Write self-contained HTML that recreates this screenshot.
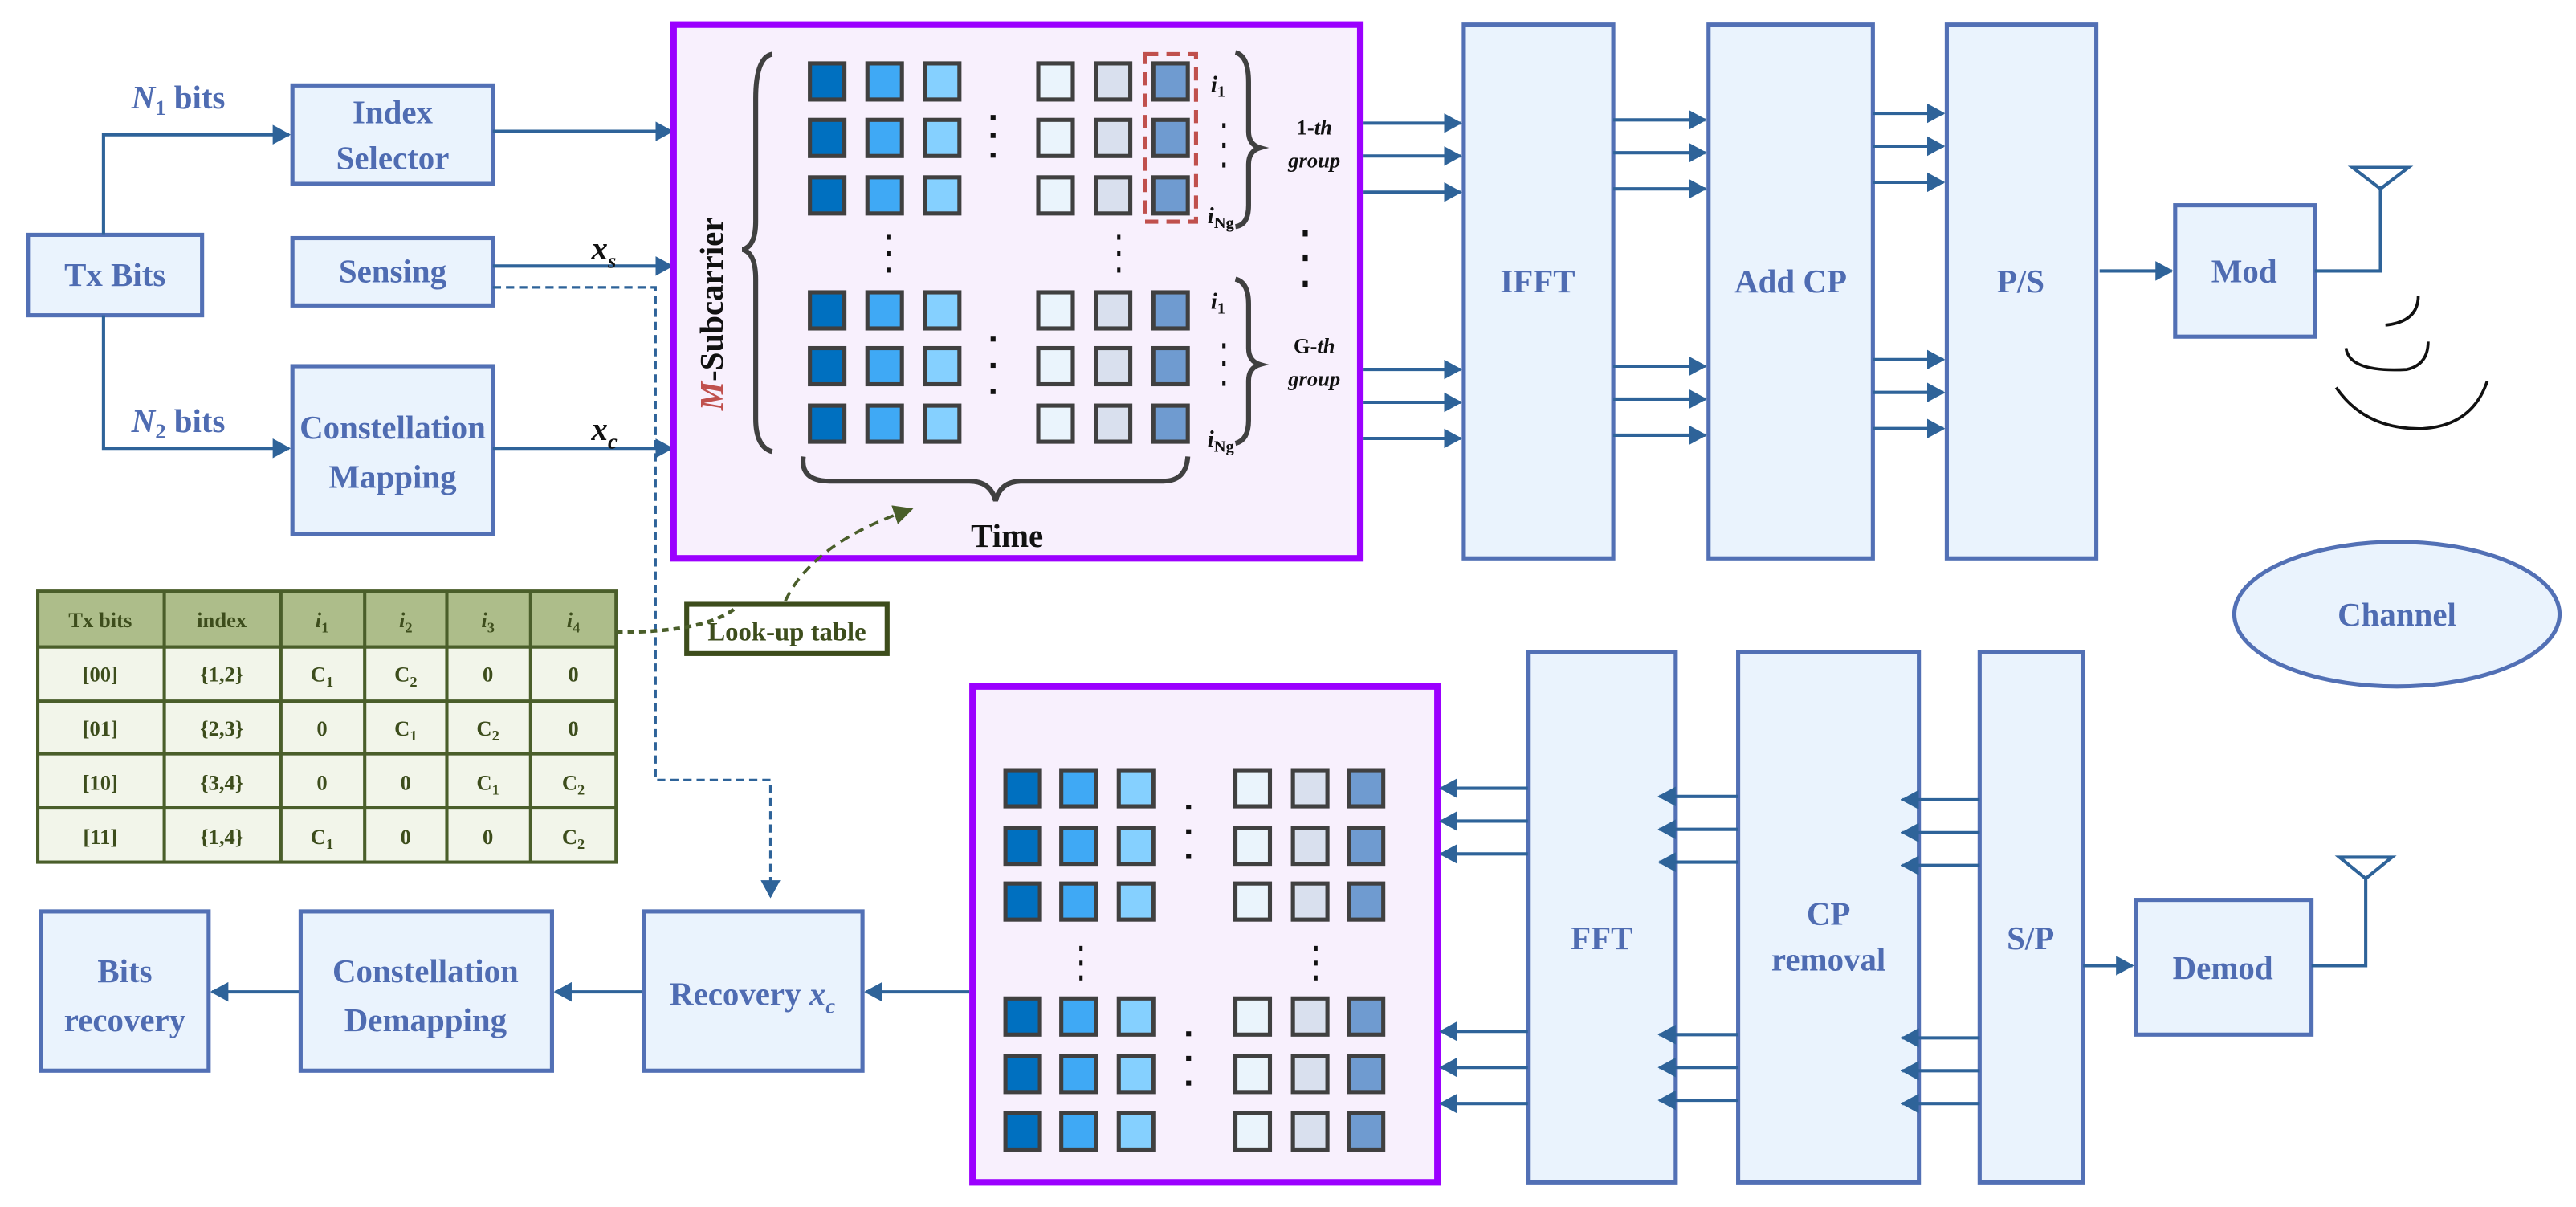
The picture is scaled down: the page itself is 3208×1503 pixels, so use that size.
<!DOCTYPE html>
<html><head><meta charset="utf-8"><style>
html,body{margin:0;padding:0;background:#fff;}
svg{display:block;}
text{font-family:"Liberation Serif",serif;font-weight:bold;}
.b{fill:#eaf3fd;stroke:#5270b5;stroke-width:2.5;}
.t{fill:#4f6cb2;font-size:20px;text-anchor:middle;}
.l{stroke:#2e6399;stroke-width:2;fill:none;}
.g{fill:#3d4d1c;font-size:13px;text-anchor:middle;}
.k{fill:#111;font-size:14px;font-style:italic;}
</style></head><body>
<svg width="3208" height="1503" viewBox="0 0 1568 735" preserveAspectRatio="none">
<defs>
<marker id="a" markerWidth="11" markerHeight="12" refX="10" refY="6" orient="auto" markerUnits="userSpaceOnUse"><path d="M0,0 L11,6 L0,12 z" fill="#2e6399"/></marker>
<marker id="ag" markerWidth="12" markerHeight="12" refX="11" refY="6" orient="auto" markerUnits="userSpaceOnUse"><path d="M0,0 L12,6 L0,12 z" fill="#4a5e2a"/></marker>
<g id="r1" stroke="#404040" stroke-width="2.5">
<rect x="493" y="0" width="21" height="22" fill="#0070c0"/>
<rect x="528" y="0" width="21" height="22" fill="#3fa9f5"/>
<rect x="563" y="0" width="21" height="22" fill="#85d0ff"/>
<rect x="632" y="0" width="21" height="22" fill="#eaf4fc"/>
<rect x="667" y="0" width="21" height="22" fill="#d9e0ee"/>
<rect x="702" y="0" width="21" height="22" fill="#6f9bd0"/>
</g>
<g id="r2" stroke="#404040" stroke-width="2.5">
<rect x="612" y="0" width="21" height="22" fill="#0070c0"/>
<rect x="646" y="0" width="21" height="22" fill="#3fa9f5"/>
<rect x="681" y="0" width="21" height="22" fill="#85d0ff"/>
<rect x="752" y="0" width="21" height="22" fill="#eaf4fc"/>
<rect x="787" y="0" width="21" height="22" fill="#d9e0ee"/>
<rect x="821" y="0" width="21" height="22" fill="#6f9bd0"/>
</g>
</defs>

<rect class="b" x="17" y="143" width="106" height="49"/><text class="t" x="70" y="174">Tx Bits</text>
<path class="l" d="M63,143 V82 H176" marker-end="url(#a)"/>
<path class="l" d="M63,192 V273 H176" marker-end="url(#a)"/>
<text x="80" y="66" style="fill:#4f6cb2;font-size:20px"><tspan font-style="italic">N</tspan><tspan font-size="13" dy="4">1</tspan><tspan dy="-4"> bits</tspan></text>
<text x="80" y="263" style="fill:#4f6cb2;font-size:20px"><tspan font-style="italic">N</tspan><tspan font-size="13" dy="4">2</tspan><tspan dy="-4"> bits</tspan></text>
<rect class="b" x="178" y="52" width="122" height="60"/><text class="t" x="239" y="75">Index</text><text class="t" x="239" y="103">Selector</text>
<rect class="b" x="178" y="145" width="122" height="41"/><text class="t" x="239" y="172">Sensing</text>
<rect class="b" x="178" y="223" width="122" height="102"/><text class="t" x="239" y="267">Constellation</text><text class="t" x="239" y="297">Mapping</text>
<path class="l" d="M300,80 H409" marker-end="url(#a)"/>
<path class="l" d="M300,162 H409" marker-end="url(#a)"/>
<path class="l" d="M300,273 H409" marker-end="url(#a)"/>
<text x="360" y="158" style="fill:#111;font-size:20px;font-style:italic">x<tspan font-size="13" dy="5">s</tspan></text>
<text x="360" y="268" style="fill:#111;font-size:20px;font-style:italic">x<tspan font-size="13" dy="5">c</tspan></text>
<path d="M300,175 H399 V475 H469 V546" fill="none" stroke="#2e6399" stroke-width="1.6" stroke-dasharray="5,3" marker-end="url(#a)"/>

<rect x="410" y="15" width="418" height="325" fill="#f8f0fd" stroke="#9b00ff" stroke-width="4"/>
<use href="#r1" y="38.6"/><use href="#r1" y="73"/><use href="#r1" y="108"/>
<use href="#r1" y="178"/><use href="#r1" y="212"/><use href="#r1" y="247"/>
<path d="M470,33 Q460,35 460,60 V135 Q460,150 452,152 Q460,154 460,170 V255 Q460,272 470,275" fill="none" stroke="#404040" stroke-width="3"/>
<text transform="translate(440,250) rotate(-90)" style="font-size:20px;fill:#111"><tspan fill="#c0504d" font-style="italic">M</tspan>-Subcarrier</text>
<g fill="#111">
<rect x="603" y="70" width="3" height="3"/><rect x="603" y="81" width="3" height="3"/><rect x="603" y="93" width="3" height="3"/>
<rect x="603" y="205" width="3" height="3"/><rect x="603" y="221" width="3" height="3"/><rect x="603" y="237" width="3" height="3"/>
<rect x="540" y="143" width="2" height="3"/><rect x="540" y="153" width="2" height="3"/><rect x="540" y="163" width="2" height="3"/>
<rect x="680" y="143" width="2" height="3"/><rect x="680" y="153" width="2" height="3"/><rect x="680" y="163" width="2" height="3"/>
<rect x="744" y="75" width="2" height="3"/><rect x="744" y="87" width="2" height="3"/><rect x="744" y="99" width="2" height="3"/>
<rect x="744" y="209" width="2" height="3"/><rect x="744" y="220" width="2" height="3"/><rect x="744" y="232" width="2" height="3"/>
<rect x="793" y="140" width="3" height="4"/><rect x="793" y="155" width="3" height="4"/><rect x="793" y="171" width="3" height="4"/>
</g>
<rect x="697" y="33" width="31" height="102" fill="none" stroke="#c0504d" stroke-width="2.5" stroke-dasharray="8,5"/>
<text class="k" x="737" y="56">i<tspan font-size="10" dy="3" font-style="normal">1</tspan></text>
<text class="k" x="735" y="136">i<tspan font-size="10" dy="3" font-style="normal">Ng</tspan></text>
<text class="k" x="737" y="188">i<tspan font-size="10" dy="3" font-style="normal">1</tspan></text>
<text class="k" x="735" y="272">i<tspan font-size="10" dy="3" font-style="normal">Ng</tspan></text>
<path d="M752,32 Q760,34 760,50 V80 Q760,88 767,90 Q760,92 760,100 V125 Q760,137 752,138" fill="none" stroke="#404040" stroke-width="3"/>
<path d="M752,170 Q760,172 760,185 V212 Q760,220 767,222 Q760,224 760,232 V256 Q760,268 752,270" fill="none" stroke="#404040" stroke-width="3"/>
<text x="800" y="82" style="fill:#111;font-size:13px;text-anchor:middle">1-<tspan font-style="italic">th</tspan></text>
<text x="800" y="102" style="fill:#111;font-size:13px;text-anchor:middle;font-style:italic">group</text>
<text x="800" y="215" style="fill:#111;font-size:13px;text-anchor:middle">G-<tspan font-style="italic">th</tspan></text>
<text x="800" y="235" style="fill:#111;font-size:13px;text-anchor:middle;font-style:italic">group</text>
<path d="M489,278 Q487,293 505,293 H590 Q603,293 606,305 Q609,293 622,293 H708 Q722,293 723,278" fill="none" stroke="#404040" stroke-width="3"/>
<text x="613" y="333" style="fill:#111;font-size:20px;text-anchor:middle">Time</text>

<rect class="b" x="891" y="15" width="91" height="325"/><text class="t" x="936" y="178">IFFT</text>
<rect class="b" x="1040" y="15" width="100" height="325"/><text class="t" x="1090" y="178">Add CP</text>
<rect class="b" x="1185" y="15" width="91" height="325"/><text class="t" x="1230" y="178">P/S</text>
<g class="l">
<path d="M830,75 H889" marker-end="url(#a)"/><path d="M830,95 H889" marker-end="url(#a)"/><path d="M830,117 H889" marker-end="url(#a)"/>
<path d="M830,225 H889" marker-end="url(#a)"/><path d="M830,245 H889" marker-end="url(#a)"/><path d="M830,267 H889" marker-end="url(#a)"/>
<path d="M982,73 H1038" marker-end="url(#a)"/><path d="M982,93 H1038" marker-end="url(#a)"/><path d="M982,115 H1038" marker-end="url(#a)"/>
<path d="M982,223 H1038" marker-end="url(#a)"/><path d="M982,243 H1038" marker-end="url(#a)"/><path d="M982,265 H1038" marker-end="url(#a)"/>
<path d="M1140,69 H1183" marker-end="url(#a)"/><path d="M1140,89 H1183" marker-end="url(#a)"/><path d="M1140,111 H1183" marker-end="url(#a)"/>
<path d="M1140,219 H1183" marker-end="url(#a)"/><path d="M1140,239 H1183" marker-end="url(#a)"/><path d="M1140,261 H1183" marker-end="url(#a)"/>
<path d="M1278,165 H1322" marker-end="url(#a)"/>
</g>
<rect class="b" x="1324" y="125" width="85" height="80"/><text class="t" x="1366" y="172">Mod</text>
<path class="l" d="M1409,165 H1449 V113"/>
<path d="M1432,102 H1466 L1449,115 Z" fill="none" stroke="#2e6399" stroke-width="2"/>
<path d="M1472,180 Q1472,196 1452,198" fill="none" stroke="#111" stroke-width="1.8"/>
<path d="M1428,212 Q1430,227 1465,225 Q1478,222 1478,208" fill="none" stroke="#111" stroke-width="1.8"/>
<path d="M1422,236 Q1440,262 1475,261 Q1505,259 1514,232" fill="none" stroke="#111" stroke-width="1.8"/>
<ellipse cx="1459" cy="374" rx="99" ry="44" fill="#eaf3fd" stroke="#5270b5" stroke-width="2.5"/>
<text class="t" x="1459" y="381">Channel</text>

<g stroke="#4a5e2a" stroke-width="2">
<rect x="23" y="360" width="352" height="34" fill="#adbd8a"/>
<rect x="23" y="394" width="352" height="131" fill="#f2f5ea"/>
<path d="M23,427 H375 M23,459 H375 M23,492 H375 M100,360 V525 M171,360 V525 M222,360 V525 M272,360 V525 M323,360 V525"/>
</g>
<g class="g">
<text x="61" y="382">Tx bits</text><text x="135" y="382">index</text>
<text x="196" y="382" font-style="italic">i<tspan font-size="9" dy="3" font-style="normal">1</tspan></text>
<text x="247" y="382" font-style="italic">i<tspan font-size="9" dy="3" font-style="normal">2</tspan></text>
<text x="297" y="382" font-style="italic">i<tspan font-size="9" dy="3" font-style="normal">3</tspan></text>
<text x="349" y="382" font-style="italic">i<tspan font-size="9" dy="3" font-style="normal">4</tspan></text>
<text x="61" y="415">[00]</text><text x="135" y="415">{1,2}</text><text x="196" y="415">C<tspan font-size="9" dy="3">1</tspan></text><text x="247" y="415">C<tspan font-size="9" dy="3">2</tspan></text><text x="297" y="415">0</text><text x="349" y="415">0</text>
<text x="61" y="448">[01]</text><text x="135" y="448">{2,3}</text><text x="196" y="448">0</text><text x="247" y="448">C<tspan font-size="9" dy="3">1</tspan></text><text x="297" y="448">C<tspan font-size="9" dy="3">2</tspan></text><text x="349" y="448">0</text>
<text x="61" y="481">[10]</text><text x="135" y="481">{3,4}</text><text x="196" y="481">0</text><text x="247" y="481">0</text><text x="297" y="481">C<tspan font-size="9" dy="3">1</tspan></text><text x="349" y="481">C<tspan font-size="9" dy="3">2</tspan></text>
<text x="61" y="514">[11]</text><text x="135" y="514">{1,4}</text><text x="196" y="514">C<tspan font-size="9" dy="3">1</tspan></text><text x="247" y="514">0</text><text x="297" y="514">0</text><text x="349" y="514">C<tspan font-size="9" dy="3">2</tspan></text>
</g>
<rect x="418" y="368" width="122" height="30" fill="#fff" stroke="#3d4d1c" stroke-width="3"/>
<text x="479" y="390" style="fill:#3d4d1c;font-size:16px;text-anchor:middle">Look-up table</text>
<path d="M375,385 Q430,385 448,370" fill="none" stroke="#4a5e2a" stroke-width="2.2" stroke-dasharray="4,3"/>
<path d="M478,366 Q495,330 555,310" fill="none" stroke="#4a5e2a" stroke-width="1.8" stroke-dasharray="6,4" marker-end="url(#ag)"/>

<rect x="592" y="418" width="283" height="302" fill="#f8f0fd" stroke="#9b00ff" stroke-width="4"/>
<use href="#r2" y="469"/><use href="#r2" y="504"/><use href="#r2" y="538"/>
<use href="#r2" y="608"/><use href="#r2" y="643"/><use href="#r2" y="678"/>
<g fill="#111">
<rect x="722" y="490" width="3" height="3"/><rect x="722" y="505" width="3" height="3"/><rect x="722" y="520" width="3" height="3"/>
<rect x="722" y="628" width="3" height="3"/><rect x="722" y="643" width="3" height="3"/><rect x="722" y="658" width="3" height="3"/>
<rect x="657" y="576" width="2" height="3"/><rect x="657" y="585" width="2" height="3"/><rect x="657" y="594" width="2" height="3"/>
<rect x="800" y="576" width="2" height="3"/><rect x="800" y="585" width="2" height="3"/><rect x="800" y="594" width="2" height="3"/>
</g>
<rect class="b" x="930" y="397" width="90" height="323"/><text class="t" x="975" y="578">FFT</text>
<rect class="b" x="1058" y="397" width="110" height="323"/><text class="t" x="1113" y="563">CP</text><text class="t" x="1113" y="591">removal</text>
<rect class="b" x="1205" y="397" width="63" height="323"/><text class="t" x="1236" y="578">S/P</text>
<g class="l">
<path d="M1205,487 H1158" marker-end="url(#a)"/><path d="M1205,507 H1158" marker-end="url(#a)"/><path d="M1205,527 H1158" marker-end="url(#a)"/>
<path d="M1205,632 H1158" marker-end="url(#a)"/><path d="M1205,652 H1158" marker-end="url(#a)"/><path d="M1205,672 H1158" marker-end="url(#a)"/>
<path d="M1058,485 H1010" marker-end="url(#a)"/><path d="M1058,505 H1010" marker-end="url(#a)"/><path d="M1058,525 H1010" marker-end="url(#a)"/>
<path d="M1058,630 H1010" marker-end="url(#a)"/><path d="M1058,650 H1010" marker-end="url(#a)"/><path d="M1058,670 H1010" marker-end="url(#a)"/>
<path d="M930,480 H877" marker-end="url(#a)"/><path d="M930,500 H877" marker-end="url(#a)"/><path d="M930,520 H877" marker-end="url(#a)"/>
<path d="M930,628 H877" marker-end="url(#a)"/><path d="M930,650 H877" marker-end="url(#a)"/><path d="M930,672 H877" marker-end="url(#a)"/>
<path d="M1268,588 H1298" marker-end="url(#a)"/>
<path d="M590,604 H527" marker-end="url(#a)"/><path d="M392,604 H338" marker-end="url(#a)"/><path d="M183,604 H129" marker-end="url(#a)"/>
</g>
<rect class="b" x="1300" y="548" width="107" height="82"/><text class="t" x="1353" y="596">Demod</text>
<path class="l" d="M1407,588 H1440 V535"/>
<path d="M1424,522 H1456 L1440,535 Z" fill="none" stroke="#2e6399" stroke-width="2"/>
<rect class="b" x="392" y="555" width="133" height="97"/>
<text class="t" x="458" y="612">Recovery <tspan font-style="italic">x</tspan><tspan font-style="italic" font-size="13" dy="5">c</tspan></text>
<rect class="b" x="183" y="555" width="153" height="97"/><text class="t" x="259" y="598">Constellation</text><text class="t" x="259" y="628">Demapping</text>
<rect class="b" x="25" y="555" width="102" height="97"/><text class="t" x="76" y="598">Bits</text><text class="t" x="76" y="628">recovery</text>
</svg>
</body></html>
